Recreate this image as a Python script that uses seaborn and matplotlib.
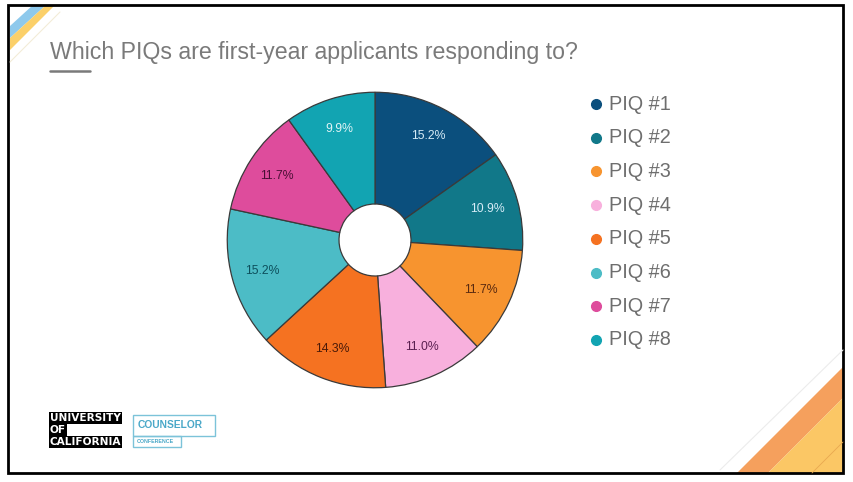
import matplotlib
matplotlib.use("Agg")
import matplotlib.pyplot as plt
import seaborn as sns
from matplotlib.patches import Polygon, Rectangle

sns.set_theme(style="white")
plt.rcParams['font.family'] = ['Liberation Sans', 'DejaVu Sans']

# ---- data ----
categories = ["PIQ #1", "PIQ #2", "PIQ #3", "PIQ #4", "PIQ #5", "PIQ #6", "PIQ #7", "PIQ #8"]
shares = [15.2, 10.9, 11.7, 11.0, 14.3, 15.2, 11.7, 9.9]
colors = ["#0b4f7d", "#117889", "#f7942f", "#f8b0dd", "#f57221", "#4cbcc6", "#de4c9c", "#12a4b2"]
label_colors = ["#d6ecf7", "#d6ecf7", "#5a2a10", "#5a2050", "#4a1a08", "#0d4f5c", "#4a0f35", "#e0f4f6"]
title = "Which PIQs are first-year applicants responding to?"

W, H = 854, 482
fig = plt.figure(figsize=(W / 100, H / 100), dpi=100)
fig.patch.set_facecolor("white")

def px(x, y):
    return (x / W, 1 - y / H)

# decorations: corner stripes
deco = fig.add_axes([0, 0, 1, 1])
deco.set_xlim(0, W); deco.set_ylim(H, 0); deco.axis("off")
deco.add_patch(Polygon([(10, 26), (10, 38), (46, 5), (33, 5)], closed=True, color="#8ec9ec", lw=0))
deco.add_patch(Polygon([(10, 38), (10, 50), (55, 5), (46, 5)], closed=True, color="#fbd06a", lw=0))
deco.plot([10, 60], [62, 12], color="#f3ecd8", lw=0.8)
deco.add_patch(Polygon([(737, 473), (768, 473), (843, 398), (843, 367)], closed=True, color="#f5a05d", lw=0))
deco.add_patch(Polygon([(768, 473), (843, 473), (843, 398)], closed=True, color="#fbc765", lw=0))
deco.plot([720, 843], [470, 350], color="#ececec", lw=0.8)
deco.plot([812, 843], [473, 442], color="#e8a850", lw=0.6)
# slide frame
deco.add_patch(Rectangle((8, 5), 835, 468, fill=False, ec="black", lw=2))

# title + underline
fig.text(*px(50, 53), title, fontsize=16.7, color="#7a7a7a", va="center", ha="left")
deco.plot([50, 90], [71, 71], color="#7a7a7a", lw=1.8)

# logos
for i, word in enumerate(["UNIVERSITY", "OF", "CALIFORNIA"]):
    y = 418 + i * 12
    fig.text(*px(50, y), word, fontsize=7.6, color="white", fontweight="bold",
             va="center", ha="left", family=["DejaVu Sans"],
             bbox=dict(boxstyle="square,pad=0.08", fc="black", ec="none"))
deco.add_patch(Rectangle((133, 415), 82, 21, fill=False, ec="#7cc3d9", lw=1))
deco.add_patch(Rectangle((133, 436), 48, 11, fill=False, ec="#7cc3d9", lw=1))
fig.text(*px(138, 425.5), "COUNSELOR", fontsize=7.4, color="#4aa8c8", fontweight="bold", va="center", ha="left")
fig.text(*px(137, 441.5), "CONFERENCE", fontsize=3.8, color="#4aa8c8", fontweight="bold", va="center", ha="left")

# pie
cx, cy, r = 375, 240, 150
ax = fig.add_axes([(cx - r) / W, (H - cy - r) / H, 2 * r / W, 2 * r / H])
wedges, texts, autotexts = ax.pie(
    shares, colors=colors, startangle=90, counterclock=False, radius=0.985,
    autopct="%.1f%%", pctdistance=0.79,
    wedgeprops=dict(width=0.745, edgecolor="#3a3a3a", linewidth=0.9),
    textprops=dict(fontsize=8.8),
)
for t, c in zip(autotexts, label_colors):
    t.set_color(c)
ax.set_xlim(-1, 1); ax.set_ylim(-1, 1)
ax.set_aspect("equal")
ax.axis("off")

# legend
for i, (cat, col) in enumerate(zip(categories, colors)):
    y = 104 + i * 33.7
    deco.plot([596], [y], marker="o", markersize=7, color=col, linestyle="none")
    fig.text(*px(609, y), cat, fontsize=14.3, color="#6e6e6e", va="center", ha="left")

fig.savefig("out.png", dpi=100, facecolor="white")
